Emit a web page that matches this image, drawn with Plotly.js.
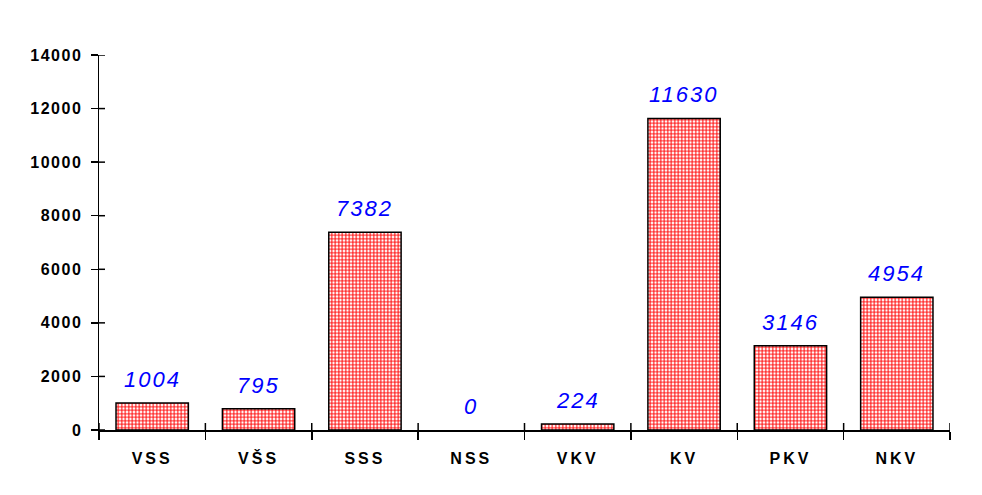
<!DOCTYPE html>
<html><head><meta charset="utf-8">
<script src="https://cdn.plot.ly/plotly-3.0.1.min.js"></script>
<style>
body{margin:0;background:#fff}#c{width:982px;height:495px}
.xtick text{letter-spacing:3px}
.ytick text{letter-spacing:1.5px}
.annotation-text{letter-spacing:2px}
</style>
</head><body><div id="c"></div>
<script>
const categories = ["VSS","VŠS","SSS","NSS","VKV","KV","PKV","NKV"];
const values = [1004, 795, 7382, 0, 224, 11630, 3146, 4954];
const yTicks = [0,2000,4000,6000,8000,10000,12000,14000];
const yMax = 14000;

const bar = {
  type: 'bar', x: categories, y: values,
  marker: {color: '#ffffff', line: {color: '#000000', width: values.map(v => v > 0 ? 1.5 : 0)},
    pattern: {shape: '+', fgcolor: '#ff0000', bgcolor: '#ffffff', size: 3.5, solidity: 0.5}},
  width: 0.68, hoverinfo: 'none', showlegend: false
};
const annotations = categories.map((c,i)=>({
  x: c, y: values[i], xref:'x', yref:'y', text: String(values[i]),
  showarrow:false, yanchor:'bottom', yshift: 9,
  font:{family:'Liberation Sans, Arial', size:22, color:'#0000ff', style:'italic'}
}));
// inner halves of the crossing tick marks
const plotW = 982 - 99 - 32, plotH = 495 - 55 - 65;
const shapes = [];
yTicks.forEach(t => shapes.push({type:'line', xref:'paper', yref:'y', x0:0, x1:6/plotW, y0:t, y1:t,
  line:{color:'#000', width:1.5}, layer:'above'}));
for (let i = 0; i <= categories.length; i++) shapes.push({type:'line', xref:'x', yref:'paper',
  x0:i-0.5, x1:i-0.5, y0:0, y1:7/plotH, line:{color:'#000', width:1.5}, layer:'above'});

const layout = {
  width: 982, height: 495,
  margin: {l: 99, r: 32, t: 55, b: 65},
  paper_bgcolor:'#fff', plot_bgcolor:'#fff',
  font:{family:'Liberation Sans, Arial', color:'#000'},
  xaxis: {type:'category', range:[-0.5, 7.5], showline:true, linecolor:'#000', linewidth:1.5,
    ticks:'outside', ticklen:8, tickwidth:1.5, tickcolor:'#000', tickson:'boundaries',
    showgrid:false, zeroline:false,
    tickfont:{size:16, family:'Liberation Sans, Arial', weight:'bold'}, ticklabelstandoff: 13},
  yaxis: {range:[0,yMax], tickvals: yTicks, ticktext: yTicks.map(String),
    showline:true, linecolor:'#000', linewidth:1.5, ticks:'outside', ticklen:7, tickwidth:1.5, tickcolor:'#000',
    showgrid:false, zeroline:false,
    tickfont:{size:16, family:'Liberation Sans, Arial', weight:'bold'}, ticklabelstandoff: 5},
  annotations: annotations, shapes: shapes
};
Plotly.newPlot('c', [bar], layout, {staticPlot:true});
</script></body></html>
